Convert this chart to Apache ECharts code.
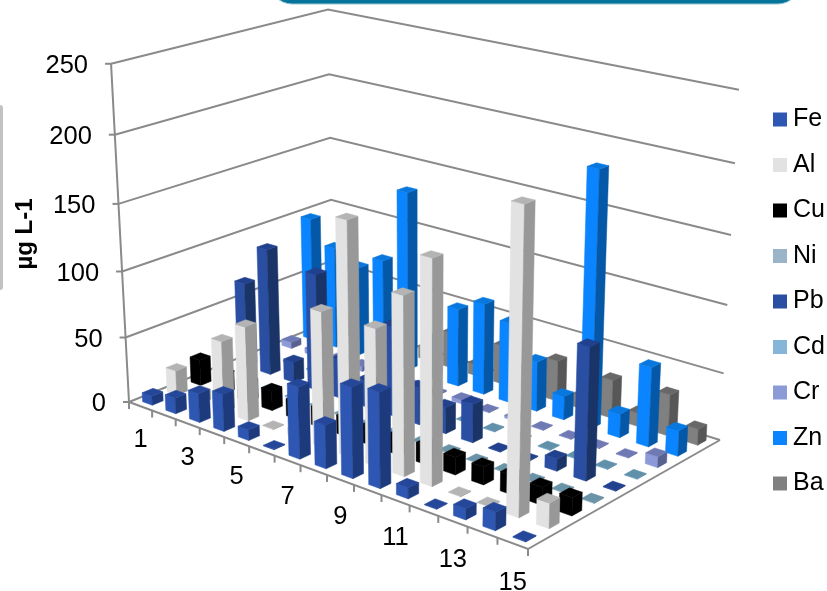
<!DOCTYPE html>
<html>
<head>
<meta charset="utf-8">
<title>Metal concentrations</title>
<script src="https://cdn.jsdelivr.net/npm/echarts@6/dist/echarts.min.js"></script>
<style>html,body{margin:0;padding:0;background:#fff}#chart{width:827px;height:591px}</style>
</head>
<body>
<div id="chart"></div>
<script>
// Sample numbers along the front edge of the floor
const categories = ['1','2','3','4','5','6','7','8','9','10','11','12','13','14','15'];
const yTicks = [0, 50, 100, 150, 200, 250];
const yTitle = 'µg L-1';
const metals = ['Fe','Al','Cu','Ni','Pb','Cd','Cr','Zn','Ba'];

// Concentrations per metal, in sample order
const Fe = [7, 12, 22, 28, 8, 0.5, 53, 32, 66, 69, 8, 0.5, 8, 13, 0.5];
const Al = [19, 8, 54, 71, 0.5, 5, 100, 170, 100, 129, 160, 0.5, 0.5, 211, 18];
const Cu = [20, 15, 15, 15, 13, 14, 14, 14, 14, 14, 13, 13, 14, 13, 13];
const Ni = [1, 1, 1, 1, 1, 1, 0.5, 0.5, 0.5, 0.5, 0.5, 0.5, 0.5, 0.5, 0.5];
const Pb = [66, 98, 16, 90, 30, 20, 68, 28, 20, 29, 0.5, 0.5, 9, 96, 0.5];
const Cd = [1, 1, 1, 1, 1, 1, 0.5, 0.5, 0.5, 0.5, 0.5, 0.5, 0.5, 0.5, 0.5];
const Cr = [5, 4, 3, 4, 2, 1, 1, 3, 0.5, 2, 0.5, 0.5, 0.5, 0.5, 8];
const Zn = [98, 80, 70, 81, 139, 30, 60, 70, 61, 38, 18, 190, 18, 59, 19];
const Ba = [15, 15, 15, 15, 10, 28, 9, 30, 20, 31, 10, 29, 10, 31, 12];
const values = { Fe, Al, Cu, Ni, Pb, Cd, Cr, Zn, Ba };

// Face shades per metal: legend swatch / front, side, top
const shades = {
  Fe: ['#2d57b2', '#1d3a7c', '#24479a'],
  Al: ['#e2e2e2', '#989898', '#b4b4b4'],
  Cu: ['#000000', '#000000', '#000000'],
  Ni: ['#9bb4c8', '#5d7a90', '#6a93a8'],
  Pb: ['#2a4fa2', '#1a3468', '#21408e'],
  Cd: ['#85b5d8', '#54809c', '#6090aa'],
  Cr: ['#8c9bd8', '#59628f', '#6f79b4'],
  Zn: ['#0a85ff', '#0558a8', '#0878df'],
  Ba: ['#808080', '#575757', '#686868']
};

// Frame of the 3D box on screen: floor corners and wall tops
const floor = { A: [129, 402], B: [528, 549], C: [720, 440], D: [333, 320] };
const wallTop = { A: [111, 64], C: [739, 89], D: [328, 10] };
const barWidth = 0.42, barDepth = 0.44;
const frameColor = '#8a8a8a';
const font = '"Liberation Sans", Arial, sans-serif';

// Perspective map from floor (u, v) and height (w) to the screen
function buildProjection() {
  const [x0, y0] = floor.A, [x1, y1] = floor.B, [x2, y2] = floor.C, [x3, y3] = floor.D;
  const dx1 = x1 - x2, dx2 = x3 - x2, sx = x0 - x1 + x2 - x3;
  const dy1 = y1 - y2, dy2 = y3 - y2, sy = y0 - y1 + y2 - y3;
  const den = dx1 * dy2 - dx2 * dy1;
  const g = (sx * dy2 - dx2 * sy) / den, h = (dx1 * sy - sx * dy1) / den;
  const a = x1 - x0 + g * x1, b = x3 - x0 + h * x3;
  const d = y1 - y0 + g * y1, e = y3 - y0 + h * y3;
  // Height column fitted over the three visible wall tops
  const rows = [], rhs = [];
  [[0, 0, wallTop.A], [1, 1, wallTop.C], [0, 1, wallTop.D]].forEach(([u, v, t]) => {
    const D = g * u + h * v + 1;
    rows.push([1, 0, -t[0]]); rhs.push(t[0] * D - (a * u + b * v + x0));
    rows.push([0, 1, -t[1]]); rhs.push(t[1] * D - (d * u + e * v + y0));
  });
  const M = [0, 1, 2].map(i => [0, 1, 2].map(j => rows.reduce((s, r) => s + r[i] * r[j], 0))
    .concat(rows.reduce((s, r, k) => s + r[i] * rhs[k], 0)));
  for (let i = 0; i < 3; i++) {
    let p = i;
    for (let k = i + 1; k < 3; k++) if (Math.abs(M[k][i]) > Math.abs(M[p][i])) p = k;
    [M[i], M[p]] = [M[p], M[i]];
    for (let k = 0; k < 3; k++) {
      if (k === i) continue;
      const f = M[k][i] / M[i][i];
      for (let j = i; j < 4; j++) M[k][j] -= f * M[i][j];
    }
  }
  const a3 = M[0][3] / M[0][0], b3 = M[1][3] / M[1][1], i3 = M[2][3] / M[2][2];
  return (u, v, w) => {
    const q = g * u + h * v + i3 * w + 1;
    return [(a * u + b * v + a3 * w + x0) / q, (d * u + e * v + b3 * w + y0) / q];
  };
}
const project = buildProjection();

// The hidden grid supplies the sample and concentration scales
const gridBox = { left: 100, top: 100, width: 600, height: 400 };
const scaleU = x => (x - gridBox.left) / gridBox.width;
const scaleW = y => (gridBox.top + gridBox.height - y) / gridBox.height;

function barRenderer(metal, row) {
  const [front, side, top] = shades[metal];
  return (params, api) => {
    const pos = api.coord([api.value(0), api.value(1)]);
    const cell = 1 / categories.length, rowCell = 1 / metals.length;
    const uc = scaleU(pos[0]), w = scaleW(pos[1]);
    const vc = (row + 0.5) * rowCell;
    const u0 = uc - cell * barWidth / 2, u1 = uc + cell * barWidth / 2;
    const v0 = vc - rowCell * barDepth / 2, v1 = vc + rowCell * barDepth / 2;
    const face = (pts, fill) => ({
      type: 'polygon', shape: { points: pts }, style: { fill, stroke: fill, lineWidth: 0.5 }
    });
    return {
      type: 'group',
      children: [
        face([project(u0, v0, 0), project(u1, v0, 0), project(u1, v0, w), project(u0, v0, w)], front),
        face([project(u1, v0, 0), project(u1, v1, 0), project(u1, v1, w), project(u1, v0, w)], side),
        face([project(u0, v0, w), project(u1, v0, w), project(u1, v1, w), project(u0, v1, w)], top)
      ]
    };
  };
}

const frameLine = pts => ({
  type: 'polyline', shape: { points: pts },
  style: { stroke: frameColor, lineWidth: 2, fill: 'none' }
});

// Wall gridlines, value ticks and value labels
function gridlineRenderer(params, api) {
  const w = scaleW(api.coord([0, api.value(1)])[1]);
  const left = project(0, 0, w);
  const children = [
    frameLine([project(0, 0, w), project(0, 1, w), project(1, 1, w)]),
    frameLine([[left[0] - 6, left[1]], left]),
    {
      type: 'text',
      style: {
        text: String(api.value(1)), x: left[0] - 23, y: left[1] + 2,
        align: 'right', verticalAlign: 'middle',
        font: '25.5px ' + font, fill: '#000'
      }
    }
  ];
  // The left upright runs from the floor to the top of the wall
  if (api.value(1) === yTicks[0]) children.push(frameLine([project(0, 0, 0), project(0, 0, 1)]));
  return { type: 'group', children };
}

// Front edge ticks and sample labels, every second sample labelled
function categoryRenderer(params, api) {
  const idx = api.value(0);
  const uc = scaleU(api.coord([idx, 0])[0]);
  const cell = 1 / categories.length;
  const edge = project(uc + cell / 2, 0, 0);
  const mid = project(uc, 0, 0);
  const children = [frameLine([edge, [edge[0], edge[1] + 7]])];
  if (idx === 0) {
    const start = project(0, 0, 0);
    children.push(frameLine([start, [start[0], start[1] + 7]]));
  }
  if (idx % 2 === 0) {
    children.push({
      type: 'text',
      style: {
        text: categories[idx], x: mid[0], y: mid[1] + 34 + idx * 0.4,
        align: 'center', verticalAlign: 'middle',
        font: '25.5px ' + font, fill: '#000'
      }
    });
  }
  return { type: 'group', children };
}

function floorRenderer() {
  return frameLine([project(0, 0, 0), project(1, 0, 0), project(1, 1, 0)]);
}

const series = [
  {
    type: 'custom', name: 'frame-walls', z: 1, silent: true, renderItem: gridlineRenderer,
    encode: { x: 0, y: 1 }, data: yTicks.map(t => [0, t])
  },
  {
    type: 'custom', name: 'frame-floor', z: 2, silent: true, renderItem: floorRenderer,
    encode: { x: 0, y: 1 }, data: [[0, 0]]
  },
  {
    type: 'custom', name: 'frame-samples', z: 2, silent: true, renderItem: categoryRenderer,
    encode: { x: 0, y: 1 }, data: categories.map((c, i) => [i, 0])
  }
];
metals.forEach((m, row) => {
  series.push({
    type: 'custom', name: m, z: 30 - row, renderItem: barRenderer(m, row),
    itemStyle: { color: shades[m][0] },
    encode: { x: 0, y: 1 },
    data: values[m].map((v, i) => [i, v])
  });
});

const chart = echarts.init(document.getElementById('chart'), null, { renderer: 'canvas' });
chart.setOption({
  animation: false,
  backgroundColor: '#fff',
  grid: Object.assign({ show: false }, gridBox),
  xAxis: { type: 'category', data: categories, show: false },
  yAxis: { type: 'value', min: 0, max: 250, interval: 50, show: false },
  legend: {
    data: metals, orient: 'vertical', left: 768, top: 102,
    itemWidth: 14, itemHeight: 14, itemGap: 20.5, icon: 'rect', selectedMode: false,
    textStyle: { fontFamily: font, fontSize: 25, color: '#000', padding: [0, 0, 0, 1] }
  },
  graphic: [
    // Banner edge along the top and panel edge on the left
    { type: 'rect', shape: { x: 270, y: -40, width: 530, height: 44, r: 24 },
      style: { fill: '#04749a', stroke: '#9cc7d4', lineWidth: 1 } },
    { type: 'rect', shape: { x: -6, y: 105, width: 9, height: 185, r: 3 },
      style: { fill: '#c2c2c2' } },
    { type: 'text', x: 25, y: 234, rotation: Math.PI / 2,
      style: { text: yTitle, font: 'bold 24px ' + font, fill: '#000', align: 'center', verticalAlign: 'middle' } }
  ],
  series
});
</script>
</body>
</html>
